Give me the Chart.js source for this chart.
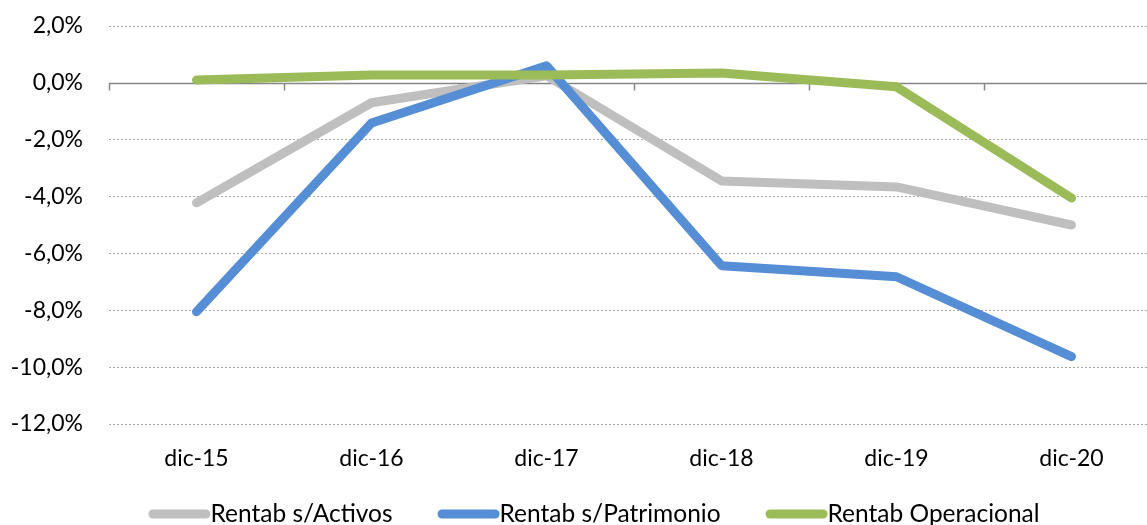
<!DOCTYPE html>
<html>
<head>
<meta charset="utf-8">
<script src="https://cdn.jsdelivr.net/npm/chart.js@4"></script>
<style>
  html, body { margin: 0; padding: 0; background: #fff; overflow: hidden; }
  #wrap { width: 1147px; height: 525px; overflow: hidden; }
</style>
</head>
<body>
<div id="wrap"><canvas id="rentChart"></canvas></div>
<script>
// Chart data
const categories = ['dic-15', 'dic-16', 'dic-17', 'dic-18', 'dic-19', 'dic-20'];
const rentActivos = [-4.22, -0.70, 0.25, -3.45, -3.66, -5.00];
const rentPatrimonio = [-8.05, -1.41, 0.60, -6.43, -6.82, -9.63];
const rentOperacional = [0.10, 0.28, 0.28, 0.35, -0.14, -4.05];
const seriesNames = ['Rentab s/Activos', 'Rentab s/Patrimonio', 'Rentab Operacional'];
const yTicks = [2, 0, -2, -4, -6, -8, -10, -12];

const canvas = document.getElementById('rentChart');
canvas.style.width = '1188px';
canvas.style.height = '525px';
canvas.width = 1188;
canvas.height = 525;

const fontFamily = 'Lato, "Open Sans", sans-serif';

// Draw the zero axis line with its tick marks between categories
const zeroLine = {
    id: 'zeroLine',
    beforeDatasetsDraw: function (chart) {
        const ctx = chart.ctx;
        const x = chart.scales.x;
        const y0 = Math.round(chart.scales.y.getPixelForValue(0)) + 0.5;
        const step = x.getPixelForValue(1) - x.getPixelForValue(0);
        ctx.save();
        ctx.strokeStyle = '#868686';
        ctx.lineWidth = 1.5;
        ctx.beginPath();
        ctx.moveTo(chart.chartArea.left, y0);
        ctx.lineTo(chart.chartArea.right, y0);
        for (let i = 0; i <= categories.length; i++) {
            const px = Math.round(x.getPixelForValue(i) - step / 2) + 0.5;
            ctx.moveTo(px, y0);
            ctx.lineTo(px, y0 + 7);
        }
        ctx.stroke();
        ctx.restore();
    }
};

// Bottom legend: thick round-capped line sample, label right after it
const lineLegend = {
    id: 'lineLegend',
    afterDraw: function (chart) {
        const ctx = chart.ctx;
        const sampleW = 58, gap = 4, itemGap = 45, y = 514;
        ctx.save();
        ctx.font = '24.5px ' + fontFamily;
        const sets = chart.data.datasets;
        let total = 0;
        sets.forEach(function (ds, i) {
            total += sampleW + gap + ctx.measureText(ds.label).width + (i ? itemGap : 0);
        });
        let x = chart.width / 2 - total / 2;
        sets.forEach(function (ds) {
            ctx.strokeStyle = ds.borderColor;
            ctx.lineWidth = 9;
            ctx.lineCap = 'round';
            ctx.beginPath();
            ctx.moveTo(x + 4.5, y);
            ctx.lineTo(x + sampleW - 0.5, y);
            ctx.stroke();
            x += sampleW + gap;
            ctx.fillStyle = '#000';
            ctx.textBaseline = 'middle';
            ctx.textAlign = 'left';
            ctx.fillText(ds.label, x, y);
            x += ctx.measureText(ds.label).width + itemGap;
        });
        ctx.restore();
    }
};

function lineSet(label, data, color, order) {
    return {
        label: label,
        data: data,
        borderColor: color,
        backgroundColor: color,
        borderWidth: 9,
        borderCapStyle: 'round',
        borderJoinStyle: 'round',
        pointRadius: 0,
        pointHoverRadius: 0,
        tension: 0,
        order: order
    };
}

new Chart(canvas.getContext('2d'), {
    type: 'line',
    data: {
        labels: categories,
        datasets: [
            lineSet(seriesNames[0], rentActivos, '#BFBFBF', 3),
            lineSet(seriesNames[1], rentPatrimonio, '#558ED5', 2),
            lineSet(seriesNames[2], rentOperacional, '#9BBB59', 1)
        ]
    },
    options: {
        responsive: false,
        animation: false,
        layout: { padding: { left: 10, right: 29, top: 26, bottom: 53 } },
        plugins: {
            tooltip: { enabled: false },
            legend: { display: false }
        },
        scales: {
            x: {
                offset: true,
                grid: { display: false },
                border: { display: false },
                ticks: { color: '#000', padding: 13, font: { family: fontFamily, size: 23 } },
                afterFit: function (scale) { scale.height = 48; }
            },
            y: {
                min: -12,
                max: 2,
                afterBuildTicks: function (scale) {
                    scale.ticks = yTicks.map(function (v) { return { value: v }; });
                },
                grid: {
                    drawTicks: false,
                    lineWidth: 1,
                    color: function (c) { return c.tick && c.tick.value === 0 ? 'transparent' : '#A6A6A6'; }
                },
                border: { display: false, dash: [2, 2] },
                ticks: {
                    color: '#000',
                    padding: 26,
                    font: { family: fontFamily, size: 23 },
                    callback: function (v) { return v.toFixed(1).replace('.', ',') + '%'; }
                },
                afterFit: function (scale) {
                    scale.width = 99;
                    scale.paddingTop = 0;
                    scale.paddingBottom = 0;
                }
            }
        }
    },
    plugins: [zeroLine, lineLegend]
});
</script>
</body>
</html>
